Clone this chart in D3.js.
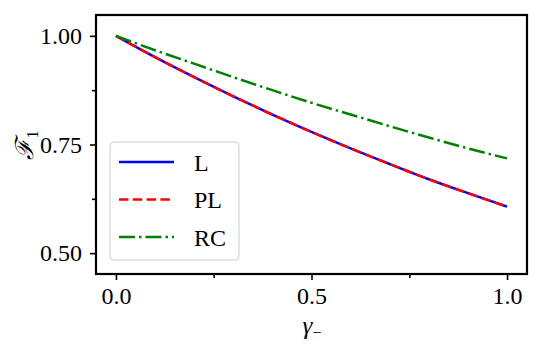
<!DOCTYPE html>
<html><head><meta charset="utf-8">
<script src="https://cdn.jsdelivr.net/npm/d3@7/dist/d3.min.js"></script>
<style>body{margin:0;background:#fff}svg{display:block}text{font-family:"Liberation Serif","DejaVu Serif",serif;fill:#000}</style>
</head><body><svg id="c" width="550" height="350"></svg>
<script>
const gammas = [0,0.1,0.2,0.3,0.4,0.5,0.6,0.7,0.8,0.9,1.0];
const seriesL  = [1.000,0.951,0.905,0.861,0.819,0.779,0.741,0.705,0.670,0.638,0.607];
const seriesPL = [1.000,0.951,0.905,0.861,0.819,0.779,0.741,0.705,0.670,0.638,0.607];
const seriesRC = [1.000,0.967,0.936,0.905,0.875,0.846,0.819,0.792,0.766,0.741,0.718];
const seriesNames = ["L","PL","RC"];
const xTicks = [0,0.5,1.0];
const xMinor = [0.25,0.75];
const yTicks = [0.50,0.75,1.00];
const yMinor = [0.625,0.875];

const svg = d3.select("#c");
const L = 96, R = 527, T = 15, B = 274;
const x = d3.scaleLinear().domain([-0.051,1.051]).range([L,R]);
const y = d3.scaleLinear().domain([0.452,1.048]).range([B,T]);

const styles = [
  {color:"#0000ff", dash:null},
  {color:"#ff0000", dash:"9.5,4.3"},
  {color:"#008000", dash:"16,4,2.5,4"}
];
const data = [seriesL, seriesPL, seriesRC];
const line = d3.line().curve(d3.curveMonotoneX).x((d,i)=>x(gammas[i])).y(d=>y(d));

const plot = svg.append("g");
data.forEach((s,k)=>{
  plot.append("path").attr("d", line(s)).attr("fill","none")
    .attr("stroke", styles[k].color).attr("stroke-width",2.5)
    .attr("stroke-dasharray", styles[k].dash);
});

// axes
svg.append("g").attr("transform",`translate(0,${B})`)
  .call(d3.axisBottom(x).tickValues(xTicks).tickFormat(d3.format(".1f")).tickSize(6).tickPadding(7));
svg.append("g").attr("transform",`translate(0,${B})`)
  .call(d3.axisBottom(x).tickValues(xMinor).tickFormat("").tickSize(4));
svg.append("g").attr("transform",`translate(${L},0)`)
  .call(d3.axisLeft(y).tickValues(yTicks).tickFormat(d3.format(".2f")).tickSize(6).tickPadding(8));
svg.append("g").attr("transform",`translate(${L},0)`)
  .call(d3.axisLeft(y).tickValues(yMinor).tickFormat("").tickSize(4));
svg.selectAll(".domain").remove();
svg.selectAll(".tick line").attr("stroke","#000").attr("stroke-width",1.6);
svg.selectAll(".tick text").style("font-size","24px").style("font-family","'Liberation Serif','DejaVu Serif',serif").attr("fill","#000");

// frame
svg.append("rect").attr("x",L).attr("y",T).attr("width",R-L).attr("height",B-T)
  .attr("fill","none").attr("stroke","#000").attr("stroke-width",2.2);

// legend
const lg = svg.append("g");
lg.append("rect").attr("x",110).attr("y",142).attr("width",129).attr("height",118)
  .attr("rx",4).attr("fill","#fff").attr("fill-opacity",0.8).attr("stroke","#cccccc").attr("stroke-width",1);
seriesNames.forEach((n,k)=>{
  const yy = 162 + k*37.5;
  lg.append("line").attr("x1",119).attr("x2",174).attr("y1",yy).attr("y2",yy)
    .attr("stroke",styles[k].color).attr("stroke-width",2.5).attr("stroke-dasharray",styles[k].dash);
  lg.append("text").attr("x",194).attr("y",yy+8.5).style("font-size","24px").text(n);
});

// axis labels
svg.append("text").attr("x",312).attr("y",334).attr("text-anchor","middle").style("font-size","25px")
  .html('<tspan font-style="italic">γ</tspan><tspan dy="4" font-size="16px">−</tspan>');
svg.append("text").attr("transform","translate(33,145) rotate(-90)").attr("text-anchor","middle").style("font-size","25px")
  .html('<tspan font-style="italic">ℱ</tspan><tspan dy="5" font-size="16px">1</tspan>');
</script></body></html>
